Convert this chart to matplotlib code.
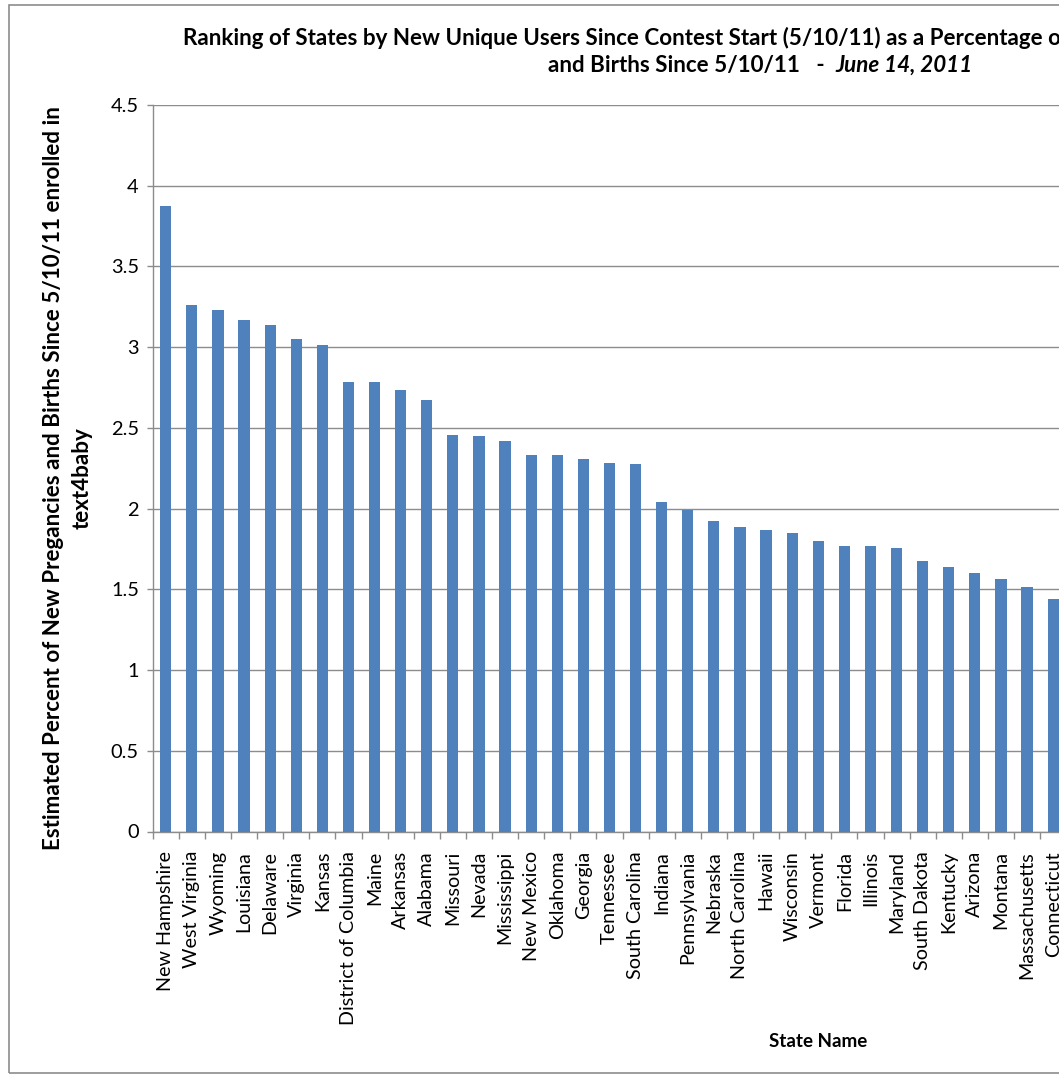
#!/usr/bin/env python3
import matplotlib as mpl
mpl.use("Agg")
import matplotlib.pyplot as plt
from matplotlib.patches import Rectangle
from matplotlib.ticker import FixedLocator, MultipleLocator, FormatStrFormatter
import numpy as np

STATES = [
    "New Hampshire", "West Virginia", "Wyoming", "Louisiana", "Delaware",
    "Virginia", "Kansas", "District of Columbia", "Maine", "Arkansas",
    "Alabama", "Missouri", "Nevada", "Mississippi", "New Mexico",
    "Oklahoma", "Georgia", "Tennessee", "South Carolina", "Indiana",
    "Pennsylvania", "Nebraska", "North Carolina", "Hawaii", "Wisconsin",
    "Vermont", "Florida", "Illinois", "Maryland", "South Dakota",
    "Kentucky", "Arizona", "Montana", "Massachusetts", "Connecticut",
]
PERCENT = [
    3.875, 3.26, 3.23, 3.17, 3.14,
    3.05, 3.015, 2.785, 2.785, 2.735,
    2.67, 2.457, 2.45, 2.416, 2.335,
    2.335, 2.308, 2.285, 2.277, 2.038,
    1.99, 1.926, 1.888, 1.866, 1.847,
    1.798, 1.767, 1.767, 1.757, 1.677,
    1.637, 1.604, 1.564, 1.515, 1.438,
]
N_SLOTS = 51  # full category axis of the original chart (cropped on the right)

TITLE_1 = ("Ranking of States by New Unique Users Since Contest Start (5/10/11) "
           "as a Percentage of Estimated New Pregnancies")
TITLE_2A = "and Births Since 5/10/11   -  "
TITLE_2B = "June 14, 2011"
Y_LABEL = ("Estimated Percent of New Pregancies and Births Since 5/10/11 enrolled in\n"
           "text4baby")
X_LABEL = "State Name"

BAR_COLOR = "#4F81BD"
GRID_COLOR = "#8C8C8C"

W_PX, H_PX = 1059, 1074
DPI = 100

plt.rcParams["font.family"] = ["Lato", "DejaVu Sans"]

fig = plt.figure(figsize=(W_PX / DPI, H_PX / DPI), dpi=DPI)

slot_px = 26.1
left_px, top_px, bottom_px = 152.7, 105, 831.5
ax = fig.add_axes([
    left_px / W_PX,
    1 - bottom_px / H_PX,
    N_SLOTS * slot_px / W_PX,
    (bottom_px - top_px) / H_PX,
])

x = np.arange(len(STATES))
ax.bar(x, PERCENT, width=0.43, color=BAR_COLOR, zorder=3)

ax.set_xlim(-0.5, N_SLOTS - 0.5)
ax.set_ylim(0, 4.5)
ax.yaxis.set_major_locator(MultipleLocator(0.5))
ax.yaxis.set_major_formatter(FormatStrFormatter("%g"))
ax.grid(True, axis="y", color=GRID_COLOR, linewidth=1.0, zorder=0)

ax.set_xticks(x)
ax.set_xticklabels(STATES, rotation=90, fontsize=14.2)
ax.tick_params(axis="x", which="major", length=0, pad=14)
ax.xaxis.set_minor_locator(FixedLocator(np.arange(N_SLOTS + 1) - 0.5))
ax.tick_params(axis="x", which="minor", length=5, color=GRID_COLOR, width=1)
ax.tick_params(axis="y", length=4, color=GRID_COLOR, width=1, labelsize=14.4, pad=6)

for side in ("top", "right"):
    ax.spines[side].set_visible(False)
for side in ("left", "bottom"):
    ax.spines[side].set_color(GRID_COLOR)
    ax.spines[side].set_linewidth(1.0)

ax.set_xlabel(X_LABEL, fontsize=13.5, fontweight="bold")
ax.xaxis.set_label_coords(0.5, -0.278)
fig.text(68 / W_PX, 1 - 478 / H_PX, Y_LABEL, rotation=90, ha="center", va="center",
         fontsize=16.1, fontweight="bold", multialignment="center", linespacing=1.45)

t1 = fig.text(183 / W_PX, 1 - 45 / H_PX, TITLE_1, ha="left", va="baseline",
              fontsize=16.15, fontweight="bold")
t2 = fig.text(548 / W_PX, 1 - 72 / H_PX, TITLE_2A, ha="left", va="baseline",
              fontsize=16.15, fontweight="bold")
fig.canvas.draw()
bb = t2.get_window_extent()
fig.text(bb.x1 / W_PX, 1 - 72 / H_PX, TITLE_2B, ha="left", va="baseline",
         fontsize=16.15, fontweight="bold", fontstyle="italic")

fig.patches.append(Rectangle((9 / W_PX, 1 - 1073 / H_PX), 1.2, (1073 - 5) / H_PX,
                             transform=fig.transFigure, fill=False,
                             edgecolor="#8C8C8C", linewidth=1.2))

fig.savefig("out.png", dpi=DPI)
